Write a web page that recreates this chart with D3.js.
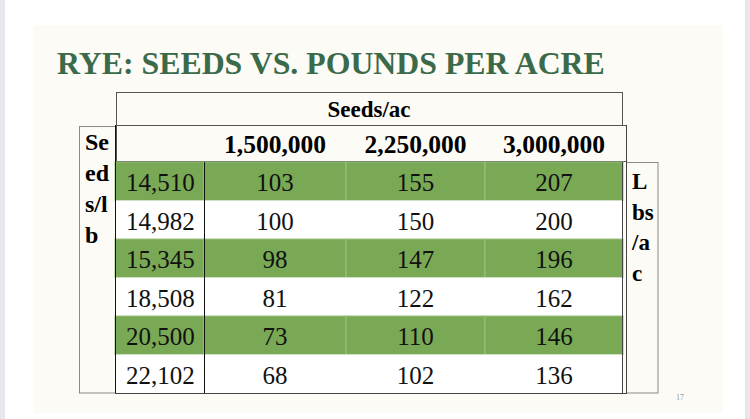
<!DOCTYPE html>
<meta charset="utf-8">
<head>
<script src="https://cdn.jsdelivr.net/npm/d3@7"></script>
<style>
  body { margin: 0; background: #ffffff; }
  svg { display: block; font-family: "Liberation Serif", "Times New Roman", serif; }
</style>
</head>
<body>
<div id="slide"></div>
<script>
// table values
var seedsPerLb = [14510, 14982, 15345, 18508, 20500, 22102];
var seedRates = [1500000, 2250000, 3000000];
var lbs1500 = [103, 100, 98, 81, 73, 68];
var lbs2250 = [155, 150, 147, 122, 110, 102];
var lbs3000 = [207, 200, 196, 162, 146, 136];
var leftLabel = ["Se", "ed", "s/l", "b"];
var rightLabel = ["L", "bs", "/a", "c"];

var width = 750, height = 419;
var green = "#79a955", titleGreen = "#3b6a4a";

var svg = d3.select("#slide").append("svg")
    .attr("width", width)
    .attr("height", height);

// page edges + slide background
svg.append("rect").attr("width", width).attr("height", height).attr("fill", "#ffffff");
svg.append("rect").attr("x", 0).attr("width", 5).attr("height", height).attr("fill", "#e6e6ec");
svg.append("rect").attr("x", 745).attr("width", 5).attr("height", height).attr("fill", "#e6e6ec");
svg.append("rect").attr("x", 33).attr("y", 25).attr("width", 690).attr("height", 388).attr("fill", "#fcfbf6");

// title
svg.append("text")
    .attr("x", 57).attr("y", 74)
    .attr("font-size", 31.8).attr("font-weight", "bold")
    .attr("fill", titleGreen)
    .text("RYE: SEEDS VS. POUNDS PER ACRE");

// rows and columns
var rows = d3.scaleBand().domain(d3.range(seedsPerLb.length)).range([162, 393]);
var colEdges = [115, 204, 346, 485, 623];
var cols = d3.scaleOrdinal().domain([0, 1, 2, 3]).range(colEdges.slice(0, 4));
var colW = function(i) { return colEdges[i + 1] - colEdges[i]; };
var fmt = d3.format(",");

var tableData = seedsPerLb.map(function(s, i) {
  return [fmt(s), lbs1500[i], lbs2250[i], lbs3000[i]];
});

// header boxes
svg.append("rect").attr("x", 116.5).attr("y", 92.5).attr("width", 506).attr("height", 33)
    .attr("fill", "none").attr("stroke", "#555");
svg.append("rect").attr("x", 116.5).attr("y", 125.5).attr("width", 510).attr("height", 36)
    .attr("fill", "none").attr("stroke", "#555");
svg.append("text").attr("x", 369).attr("y", 117)
    .attr("text-anchor", "middle").attr("font-size", 23).attr("font-weight", "bold")
    .text("Seeds/ac");
svg.selectAll(".rate").data(seedRates).enter().append("text")
    .attr("class", "rate")
    .attr("x", function(d, i) { return cols(i + 1) + colW(i + 1) / 2; })
    .attr("y", 153)
    .attr("text-anchor", "middle").attr("font-size", 25.5).attr("font-weight", "bold")
    .text(function(d) { return fmt(d); });

// side boxes
svg.append("rect").attr("x", 79.5).attr("y", 126.5).attr("width", 36).attr("height", 266.5)
    .attr("fill", "none").attr("stroke", "#8a8a8a");
svg.append("rect").attr("x", 626.5).attr("y", 162.5).attr("width", 31.5).attr("height", 230.5)
    .attr("fill", "none").attr("stroke", "#8a8a8a");
svg.selectAll(".lt").data(leftLabel).enter().append("text")
    .attr("class", "lt")
    .attr("x", 85).attr("y", function(d, i) { return 150 + i * 31; })
    .attr("font-size", 24).attr("font-weight", "bold")
    .text(function(d) { return d; });
svg.selectAll(".rt").data(rightLabel).enter().append("text")
    .attr("class", "rt")
    .attr("x", 632).attr("y", function(d, i) { return 189 + i * 30.5; })
    .attr("font-size", 23).attr("font-weight", "bold")
    .text(function(d) { return d; });

// body rows
var row = svg.selectAll(".row").data(tableData).enter().append("g")
    .attr("class", "row")
    .attr("transform", function(d, i) { return "translate(0," + rows(i) + ")"; });

row.selectAll("rect").data(function(d, i) { return d.map(function(v) { return {v: v, r: i}; }); })
  .enter().append("rect")
    .attr("x", function(d, j) { return cols(j); })
    .attr("width", function(d, j) { return colW(j); })
    .attr("height", rows.bandwidth())
    .attr("fill", function(d) { return d.r % 2 === 0 ? green : "#ffffff"; })
    .attr("stroke", function(d) { return d.r % 2 === 0 ? "#9cc083" : "none"; })
    .attr("stroke-width", 1);

row.selectAll("text").data(function(d) { return d; })
  .enter().append("text")
    .attr("x", function(d, j) { return j === 0 ? cols(j) + 11 : cols(j) + colW(j) / 2; })
    .attr("y", rows.bandwidth() / 2 + 10)
    .attr("text-anchor", function(d, j) { return j === 0 ? "start" : "middle"; })
    .attr("font-size", 25)
    .attr("fill", "#111")
    .text(function(d) { return d; });

// table rules
svg.append("line").attr("x1", 115.5).attr("x2", 115.5).attr("y1", 125).attr("y2", 393)
    .attr("stroke", "#111");
svg.append("line").attr("x1", 204.5).attr("x2", 204.5).attr("y1", 162).attr("y2", 393)
    .attr("stroke", "#111");
svg.append("line").attr("x1", 115).attr("x2", 627).attr("y1", 393.5).attr("y2", 393.5)
    .attr("stroke", "#444");
svg.append("line").attr("x1", 622.5).attr("x2", 622.5).attr("y1", 162).attr("y2", 394)
    .attr("stroke", "#444");
svg.append("line").attr("x1", 626.5).attr("x2", 626.5).attr("y1", 125).attr("y2", 394)
    .attr("stroke", "#444");

// page number
svg.append("text").attr("x", 676).attr("y", 400)
    .attr("font-size", 8).attr("fill", "#999").text("17");
</script>
</body>
